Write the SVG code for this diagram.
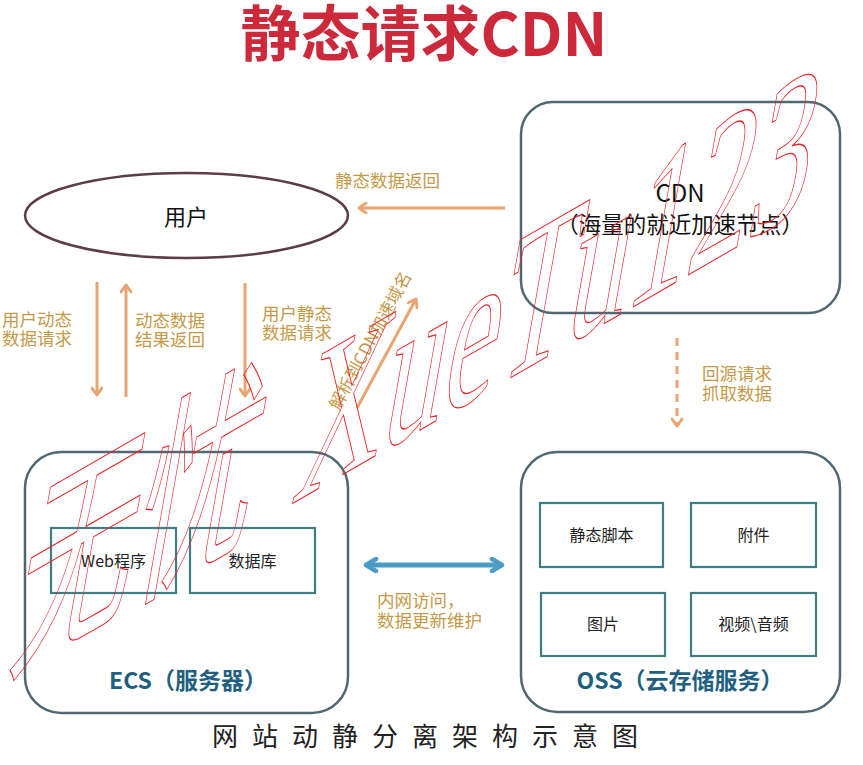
<svg xmlns="http://www.w3.org/2000/svg" width="863" height="765" viewBox="0 0 863 765">
<defs>
<style>
text{font-family:"Noto Sans CJK SC","Noto Sans",sans-serif}
.lbl{font-size:17.5px;fill:#c49a48}
.box{fill:none;stroke:#4f6872;stroke-width:2.5}
.inner{fill:none;stroke:#3f7d84;stroke-width:2.2}
.itxt{font-size:16px;fill:#222;text-anchor:middle}
.big{font-size:23px;font-weight:700;fill:#1f6080;text-anchor:middle}
.arr{stroke:#e8a472;stroke-width:3;fill:none}
.blue{stroke:#4a9cc4;stroke-width:5;fill:none}
.wm{fill:none;stroke:#e8262a;stroke-width:1;font-family:"Liberation Serif","Noto Sans CJK SC",serif}
</style>
<marker id="ah" viewBox="0 0 12 12" markerWidth="12" markerHeight="12" markerUnits="userSpaceOnUse" refX="9" refY="6" orient="auto">
<path d="M2,1 L9,6 L2,11" fill="none" stroke="#e8a472" stroke-width="3" stroke-linecap="round" stroke-linejoin="round"/>
</marker>
<marker id="bh" viewBox="0 0 16 16" markerWidth="16" markerHeight="16" markerUnits="userSpaceOnUse" refX="13" refY="8" orient="auto-start-reverse">
<path d="M3,2 L13,8 L3,14" fill="none" stroke="#4a9cc4" stroke-width="4.5" stroke-linecap="round" stroke-linejoin="round"/>
</marker>
</defs>
<rect width="863" height="765" fill="#fff"/>

<g id="title">
<text x="424" y="56" font-size="60" font-weight="700" fill="#cc2a3a" text-anchor="middle">静态请求CDN</text>
</g>

<g id="user">
<ellipse cx="186.5" cy="215.5" rx="161.5" ry="42.5" fill="none" stroke="#5b3d45" stroke-width="2.5"/>
<text x="186" y="225" font-size="22" text-anchor="middle" fill="#111">用户</text>
</g>

<g id="cdn">
<rect class="box" x="521" y="102" width="319" height="211" rx="32"/>
<text x="680" y="202" font-size="24" text-anchor="middle" fill="#111">CDN</text>
<text x="680" y="233" font-size="22.5" text-anchor="middle" fill="#111">（海量的就近加速节点）</text>
</g>

<g id="ecs">
<rect class="box" x="25" y="452" width="323" height="261" rx="36"/>
<g id="web">
<rect class="inner" x="51" y="528" width="125" height="65"/>
<text class="itxt" x="113.5" y="567">Web程序</text>
</g>
<g id="db">
<rect class="inner" x="190" y="528" width="125" height="65"/>
<text class="itxt" x="252.5" y="567">数据库</text>
</g>
<text class="big" x="188" y="689">ECS（服务器）</text>
</g>

<g id="oss">
<rect class="box" x="521" y="452" width="319" height="260" rx="36"/>
<g id="script">
<rect class="inner" x="540" y="503" width="123" height="64"/>
<text class="itxt" x="601.5" y="541">静态脚本</text>
</g>
<g id="attach">
<rect class="inner" x="691" y="503" width="125" height="64"/>
<text class="itxt" x="753.5" y="541">附件</text>
</g>
<g id="image">
<rect class="inner" x="541" y="593" width="124" height="63"/>
<text class="itxt" x="603" y="630">图片</text>
</g>
<g id="media">
<rect class="inner" x="691" y="593" width="125" height="63"/>
<text class="itxt" x="753.5" y="630">视频\音频</text>
</g>
<text class="big" x="680" y="689">OSS（云存储服务）</text>
</g>

<g id="connectors">
<line class="arr" x1="505" y1="208" x2="359" y2="208" marker-end="url(#ah)"/>
<line class="arr" x1="97" y1="282" x2="97" y2="395" marker-end="url(#ah)"/>
<line class="arr" x1="126" y1="397" x2="126" y2="285" marker-end="url(#ah)"/>
<line class="arr" x1="245" y1="283" x2="245" y2="396" marker-end="url(#ah)"/>
<line class="arr" x1="357" y1="408" x2="416" y2="299" marker-end="url(#ah)"/>
<line class="arr" x1="677" y1="338" x2="677" y2="426" stroke-dasharray="8,6" marker-end="url(#ah)"/>
<line class="blue" x1="366" y1="565" x2="502" y2="565" marker-start="url(#bh)" marker-end="url(#bh)"/>
</g>

<g id="labels">
<text class="lbl" x="335" y="187">静态数据返回</text>
<text class="lbl" x="2" y="326">用户动态</text>
<text class="lbl" x="2" y="345">数据请求</text>
<text class="lbl" x="135" y="327">动态数据</text>
<text class="lbl" x="135" y="346">结果返回</text>
<text class="lbl" x="262" y="320">用户静态</text>
<text class="lbl" x="262" y="339">数据请求</text>
<text class="lbl" transform="translate(369,340) rotate(-61.7)" text-anchor="middle" dominant-baseline="central" style="font-size:17px">解析到CDN加速域名</text>
<text class="lbl" x="702" y="380">回源请求</text>
<text class="lbl" x="702" y="400">抓取数据</text>
<text class="lbl" x="377" y="607">内网访问，</text>
<text class="lbl" x="377" y="627">数据更新维护</text>
</g>

<g id="caption">
<text x="212" y="746" font-size="26" letter-spacing="14" fill="#222">网站动静分离架构示意图</text>
</g>

<g id="watermark">
<text class="wm" transform="translate(290,505) rotate(-30) skewX(-40) scale(0.8,1)" font-size="175">XueTu123</text>
<text class="wm" transform="translate(290,505) rotate(-30) skewX(-40) scale(0.8,1)" x="-60" font-size="175" text-anchor="end">无忧</text>
</g>
</svg>
